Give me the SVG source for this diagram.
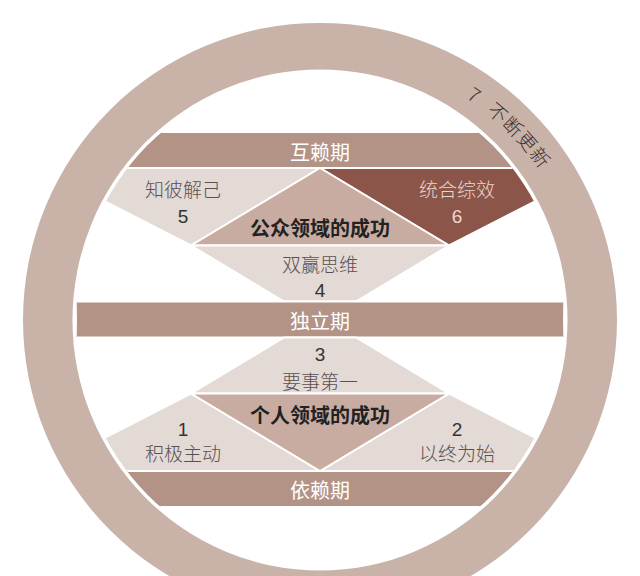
<svg xmlns="http://www.w3.org/2000/svg" width="640" height="576" viewBox="0 0 640 576">
<style>
.bar{fill:#b39385;stroke:#fff;stroke-width:2}
.lt{fill:#e3d9d5;stroke:#fff;stroke-width:2;stroke-linejoin:miter}
.mid{fill:#c8aca1;stroke:#fff;stroke-width:2}
.dk{fill:#8b5649;stroke:#fff;stroke-width:2}
.cjk{font-family:"Noto Sans CJK SC","Noto Sans",sans-serif;text-anchor:middle}
.num{font-family:"Liberation Sans","DejaVu Sans",sans-serif;text-anchor:middle;font-size:19px;fill:#333}
.bt{font-size:20px;fill:#fff}
.lb{font-size:19px;fill:#5a5050;font-weight:300}
.hd{font-size:20px;fill:#222;font-weight:bold}
</style>
<defs>
<clipPath id="inner"><ellipse cx="320" cy="320" rx="244" ry="247"/></clipPath>
<path id="arc" d="M466,98 A268,268 0 0 1 583.9,273.5"/>
</defs>
<rect width="640" height="576" fill="#fff"/>
<g id="ring">
<path fill="#c9b3a8" fill-rule="evenodd" d="M23,320 A297,297 0 1 1 617,320 A297,297 0 1 1 23,320 Z M72.5,320 A247.5,250.5 0 1 0 567.5,320 A247.5,250.5 0 1 0 72.5,320 Z"/>
<text font-family="Noto Sans CJK SC,Noto Sans,sans-serif" font-size="19" font-weight="300" fill="#3a3030" letter-spacing="1" word-spacing="8"><textPath href="#arc">7 不断更新</textPath></text>
</g>
<g clip-path="url(#inner)">
<g id="bar-top"><rect class="bar" x="40" y="132" width="560" height="36"/><text class="cjk bt" x="320" y="159.5">互赖期</text></g>
<g id="n5"><polygon class="lt" points="40,168 320,168 191,245.5"/><text class="cjk lb" x="183" y="197">知彼解己</text><text class="num" x="183" y="223">5</text></g>
<g id="n6"><polygon class="dk" points="320,168 600,168 449,245.5"/><text class="cjk lb" x="457" y="197" style="fill:#ead7cf">统合综效</text><text class="num" x="457" y="223" style="fill:#ead7cf">6</text></g>
<g id="public"><polygon class="mid" points="320,168 449,245.5 191,245.5"/><text class="cjk hd" x="320" y="236">公众领域的成功</text></g>
<g id="n4"><polygon class="lt" points="191,245.5 449,245.5 356,301.5 284,301.5"/><text class="cjk lb" x="320" y="272">双赢思维</text><text class="num" x="320" y="297">4</text></g>
<g id="bar-mid"><rect class="bar" x="76" y="301.5" width="488" height="36"/><text class="cjk bt" x="320" y="328.5">独立期</text></g>
<g id="n3"><polygon class="lt" points="284,337.5 356,337.5 449,393.5 191,393.5"/><text class="num" x="320" y="361">3</text><text class="cjk lb" x="320" y="388.5">要事第一</text></g>
<g id="n1"><polygon class="lt" points="191,393.5 320,471 40,471"/><text class="num" x="183" y="436">1</text><text class="cjk lb" x="183" y="461">积极主动</text></g>
<g id="n2"><polygon class="lt" points="449,393.5 600,471 320,471"/><text class="num" x="457" y="436">2</text><text class="cjk lb" x="457" y="461">以终为始</text></g>
<g id="private"><polygon class="mid" points="191,393.5 449,393.5 320,471"/><text class="cjk hd" x="320" y="422.5">个人领域的成功</text></g>
<g id="bar-bot"><rect class="bar" x="40" y="471" width="560" height="36"/><text class="cjk bt" x="320" y="497.5">依赖期</text></g>
</g>
<g id="connectors"/>
</svg>
